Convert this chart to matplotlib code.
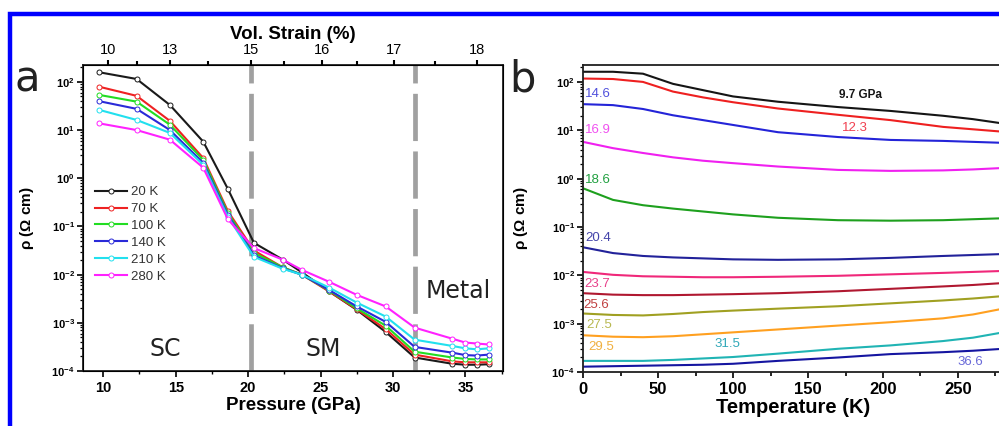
import numpy as np
import matplotlib
matplotlib.use("Agg")
import matplotlib.pyplot as plt
from matplotlib.ticker import FuncFormatter, LogLocator, NullFormatter, MultipleLocator
from matplotlib.patches import Rectangle

plt.rcParams['font.family'] = ['Liberation Sans', 'DejaVu Sans']
plt.rcParams['mathtext.fontset'] = 'custom'
plt.rcParams['mathtext.bf'] = 'Liberation Sans:bold'
plt.rcParams['mathtext.rm'] = 'Liberation Sans'

# ---- panel a : resistivity vs pressure (log10 of rho in Ohm cm) ----
pressure = [9.7, 12.3, 14.6, 16.9, 18.6, 20.4, 22.4, 23.7, 25.6, 27.5, 29.5, 31.5, 34.1, 35.0, 35.8, 36.6]
temp_labels = ['20 K', '70 K', '100 K', '140 K', '210 K', '280 K']
logrho_20K = [2.20, 2.06, 1.52, 0.76, -0.22, -1.34, -1.69, -1.95, -2.35, -2.73, -3.19, -3.72, -3.85, -3.87, -3.87, -3.86]
logrho_70K = [1.90, 1.71, 1.19, 0.42, -0.68, -1.50, -1.85, -2.00, -2.35, -2.72, -3.13, -3.66, -3.80, -3.82, -3.82, -3.82]
logrho_100K = [1.73, 1.59, 1.11, 0.38, -0.72, -1.55, -1.85, -2.00, -2.33, -2.70, -3.06, -3.60, -3.72, -3.75, -3.76, -3.76]
logrho_140K = [1.60, 1.44, 1.00, 0.32, -0.76, -1.60, -1.87, -2.00, -2.32, -2.66, -2.98, -3.50, -3.62, -3.67, -3.68, -3.66]
logrho_210K = [1.42, 1.21, 0.94, 0.28, -0.80, -1.63, -1.88, -2.00, -2.27, -2.58, -2.87, -3.35, -3.48, -3.53, -3.55, -3.53]
logrho_280K = [1.14, 1.00, 0.80, 0.22, -0.85, -1.45, -1.69, -1.90, -2.15, -2.42, -2.66, -3.10, -3.33, -3.41, -3.43, -3.45]
colors_a = ['#1a1a1a', '#ee2222', '#22dd22', '#2a2ad8', '#22e0ee', '#ff22ff']

# top axis: volume strain (%) marked at pressure positions
strain_labels = ['10', '13', '15', '16', '17', '18']
strain_at_p = [10.3, 14.6, 20.2, 25.1, 30.1, 35.8]
strain_minor_at_p = [12.3, 17.2, 22.5, 27.5, 32.9]
boundaries = [20.2, 31.5]

# ---- panel b : resistivity vs temperature ----
temperature = [0, 20, 40, 60, 80, 100, 130, 170, 205, 240, 260, 280]
p_9_7 = [2.21, 2.21, 2.17, 1.96, 1.83, 1.70, 1.59, 1.48, 1.40, 1.30, 1.23, 1.14]
p_12_3 = [2.07, 2.06, 2.00, 1.80, 1.68, 1.58, 1.45, 1.32, 1.21, 1.07, 1.02, 0.97]
p_14_6 = [1.54, 1.52, 1.44, 1.31, 1.21, 1.11, 0.96, 0.86, 0.80, 0.78, 0.76, 0.74]
p_16_9 = [0.76, 0.63, 0.53, 0.44, 0.37, 0.32, 0.25, 0.18, 0.16, 0.17, 0.19, 0.22]
p_18_6 = [-0.20, -0.44, -0.55, -0.62, -0.68, -0.74, -0.81, -0.86, -0.87, -0.86, -0.84, -0.82]
p_20_4 = [-1.42, -1.54, -1.60, -1.63, -1.65, -1.67, -1.68, -1.67, -1.64, -1.60, -1.58, -1.56]
p_23_7 = [-1.93, -1.99, -2.02, -2.03, -2.04, -2.04, -2.03, -2.01, -1.98, -1.95, -1.93, -1.91]
p_25_6 = [-2.37, -2.40, -2.41, -2.41, -2.40, -2.39, -2.37, -2.33, -2.28, -2.23, -2.20, -2.16]
p_27_5 = [-2.79, -2.82, -2.83, -2.80, -2.76, -2.73, -2.69, -2.64, -2.58, -2.52, -2.48, -2.43]
p_29_5 = [-3.24, -3.27, -3.28, -3.26, -3.22, -3.18, -3.12, -3.04, -2.97, -2.89, -2.81, -2.69]
p_31_5 = [-3.77, -3.77, -3.77, -3.75, -3.72, -3.69, -3.62, -3.52, -3.45, -3.36, -3.29, -3.18]
p_36_6 = [-3.89, -3.88, -3.87, -3.86, -3.85, -3.83, -3.77, -3.70, -3.63, -3.59, -3.56, -3.52]
colors_b = ['#151515', '#ee2020', '#2424d8', '#f020f0', '#1ea01e', '#22229a',
            '#f0287a', '#b01830', '#a0a022', '#ffa020', '#20b4b4', '#1515a0']
# (text, T, log10 rho, color, bold)
labels_b = [('9.7 GPa', 185, 1.73, '#151515', True), ('12.3', 181, 1.05, '#f04050', False),
            ('14.6', 1.5, 1.75, '#5050dc', False), ('16.9', 1.5, 1.0, '#f050f0', False),
            ('18.6', 1.5, -0.03, '#20a040', False), ('20.4', 1.5, -1.23, '#4444aa', False),
            ('23.7', 1.0, -2.18, '#e8408a', False), ('25.6', 0.5, -2.62, '#c04040', False),
            ('27.5', 2.5, -3.03, '#b8b850', False), ('29.5', 3.5, -3.49, '#f0b040', False),
            ('31.5', 96, -3.42, '#30a8b8', False), ('36.6', 258, -3.8, '#6a6ad8', False)]


def bold_pow(v, pos):
    return r'$\mathbf{10^{%d}}$' % int(round(np.log10(v)))


def style_log_y(ax, label_x):
    ax.set_yscale('log')
    ax.set_ylim(1e-4, 10 ** 2.35)
    ax.yaxis.set_major_locator(LogLocator(base=10, numticks=10))
    ax.yaxis.set_minor_locator(LogLocator(base=10, subs=np.arange(2, 10), numticks=10))
    ax.yaxis.set_major_formatter(FuncFormatter(bold_pow))
    ax.yaxis.set_minor_formatter(NullFormatter())
    ax.tick_params(axis='y', which='major', labelsize=8, length=4, width=1.2, direction='out', pad=2)
    ax.tick_params(axis='y', which='minor', length=2.5, width=0.9, direction='out')
    ax.set_ylabel(r'$\mathbf{\rho}$ ($\mathbf{\Omega}$ cm)', fontsize=11, fontweight='bold')
    ax.yaxis.set_label_coords(label_x, 0.5)
    for s in ax.spines.values():
        s.set_linewidth(1.3)
        s.set_color('#202020')


fig = plt.figure(figsize=(9.99, 4.26), dpi=100)
W, H = 999.0, 426.0

# ---------------- panel a ----------------
ax = fig.add_axes([83 / W, (H - 371) / H, 420 / W, 306 / H])
series_a = [logrho_20K, logrho_70K, logrho_100K, logrho_140K, logrho_210K, logrho_280K]
for vals, c, lab in zip(series_a, colors_a, temp_labels):
    ax.plot(pressure, 10 ** np.array(vals), '-o', color=c, lw=1.5, ms=3.6,
            mfc='white', mec=c, mew=0.7, label=lab, zorder=3)
for b in boundaries:
    ax.axvline(b, color='#a0a0a0', lw=3.4, ls=(0, (10, 2.2)), zorder=2)
ax.set_xlim(8.6, 37.6)
style_log_y(ax, -0.112)
ax.xaxis.set_major_locator(MultipleLocator(5))
ax.xaxis.set_minor_locator(MultipleLocator(2.5))
ax.tick_params(axis='x', which='major', labelsize=10.5, length=4, width=1.2, direction='out', pad=3)
ax.tick_params(axis='x', which='minor', length=2.5, width=1.0, direction='out')
for t in ax.get_xticklabels():
    t.set_fontweight('bold')
ax.set_xlabel('Pressure (GPa)', fontsize=13.5, fontweight='bold', labelpad=2)
ax.text(14.3, 10 ** -3.55, 'SC', fontsize=17, family='DejaVu Sans', color='#222', ha='center', va='center')
ax.text(25.2, 10 ** -3.55, 'SM', fontsize=17, family='DejaVu Sans', color='#222', ha='center', va='center')
ax.text(34.5, 10 ** -2.35, 'Metal', fontsize=17, family='DejaVu Sans', color='#222', ha='center', va='center')
leg = ax.legend(loc='upper left', bbox_to_anchor=(0.01, 0.63), frameon=False, fontsize=9.5,
                handlelength=2.4, handletextpad=0.3, labelspacing=0.35, borderaxespad=0.2)
for t in leg.get_texts():
    t.set_color('#333333')

axt = ax.twiny()
axt.set_xlim(ax.get_xlim())
axt.set_xticks(strain_at_p)
axt.set_xticklabels(strain_labels)
axt.set_xticks(strain_minor_at_p, minor=True)
axt.tick_params(axis='x', which='major', labelsize=10.5, length=3.5, width=1.5, direction='out', pad=2)
axt.tick_params(axis='x', which='minor', length=3, width=1.5, direction='out')
axt.set_xlabel('Vol. Strain (%)', fontsize=13.5, fontweight='bold', labelpad=3)
fig.text(27 / W, 1 - 80 / H, 'a', fontsize=30, family='DejaVu Sans', ha='center', va='center', color='#222')

# ---------------- panel b ----------------
bx = fig.add_axes([583 / W, (H - 372) / H, 420 / W, 307 / H])
series_b = [p_9_7, p_12_3, p_14_6, p_16_9, p_18_6, p_20_4, p_23_7, p_25_6, p_27_5, p_29_5, p_31_5, p_36_6]
for vals, c in zip(series_b, colors_b):
    bx.plot(temperature, 10 ** np.array(vals), '-', color=c, lw=1.5)
bx.set_xlim(0, 280)
style_log_y(bx, -0.126)
bx.xaxis.set_major_locator(MultipleLocator(50))
bx.xaxis.set_minor_locator(MultipleLocator(25))
bx.tick_params(axis='x', which='major', labelsize=12, length=4, width=1.2, direction='out', pad=3)
bx.tick_params(axis='x', which='minor', length=3, width=1.2, direction='out')
for t in bx.get_xticklabels():
    t.set_fontweight('bold')
bx.set_xlabel('Temperature (K)', fontsize=14.5, fontweight='bold', labelpad=1)
for txt, tx, ty, c, bold in labels_b:
    ha = 'center' if tx > 50 else 'left'
    bx.text(tx, 10 ** ty, txt, color=c, fontsize=8.5 if bold else 9.5,
            fontweight='bold' if bold else 'normal', ha=ha, va='center')
fig.text(522 / W, 1 - 80 / H, 'b', fontsize=30, family='DejaVu Sans', ha='center', va='center', color='#222')

# blue frame of the original figure
fig.add_artist(Rectangle((10 / W, -0.2), 1.2, 1 - 14 / H + 0.2, transform=fig.transFigure,
                         fill=False, edgecolor='#0000ff', lw=3.2))

fig.savefig('out.png', dpi=100)
